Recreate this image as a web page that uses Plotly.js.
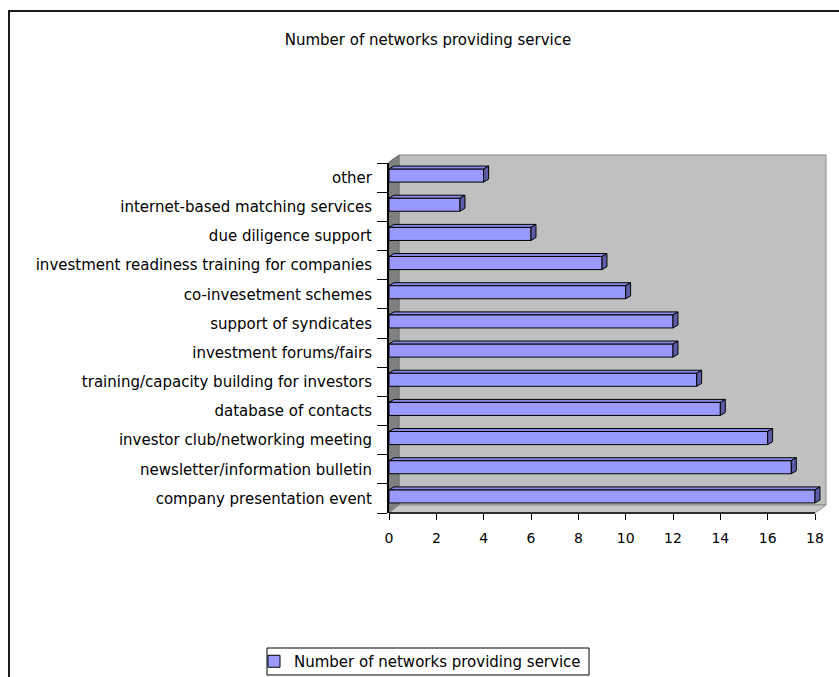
<!DOCTYPE html>
<html>
<head>
<meta charset="utf-8">
<script src="https://cdn.plot.ly/plotly-3.0.1.min.js"></script>
<style>html,body{margin:0;padding:0;background:#fff}#chart{width:839px;height:677px}</style>
</head>
<body>
<div id="chart"></div>
<script>
// ---- data (bottom to top) ----
const categories = [
  "company presentation event",
  "newsletter/information bulletin",
  "investor club/networking meeting",
  "database of contacts",
  "training/capacity building for investors",
  "investment forums/fairs",
  "support of syndicates",
  "co-invesetment schemes",
  "investment readiness training for companies",
  "due diligence support",
  "internet-based matching services",
  "other"
];
const values = [18, 17, 16, 14, 13, 12, 12, 10, 9, 6, 3, 4];
const seriesName = "Number of networks providing service";
const chartTitle = "Number of networks providing service";
const xTickVals = [0, 2, 4, 6, 8, 10, 12, 14, 16, 18];

// ---- geometry helpers ----
const W = 839, H = 677, L = 389, R = 827, T = 163, B = 513;
const PW = R - L, PH = B - T;
const px = x => (x - L) / PW;
const py = y => (B - y) / PH;
const FONT = "DejaVu Sans, Liberation Sans, Arial, sans-serif";

const idx = categories.map((c, i) => i);
const barW = 0.45, barOff = -0.155, dx = 0.21, dy = 0.1;

// 3D top faces and end caps built from the data
const topX = [], topY = [], capX = [], capY = [];
values.forEach((v, i) => {
  const y0 = i + barOff, y1 = y0 + barW;
  topX.push(0, v, v + dx, dx, 0, null);
  topY.push(y1, y1, y1 + dy, y1 + dy, y1, null);
  capX.push(v, v, v + dx, v + dx, v, null);
  capY.push(y0, y1, y1 + dy, y0 + dy, y0, null);
});

const traces = [
  {
    type: "bar", orientation: "h", name: seriesName,
    x: values, y: idx, width: barW, offset: barOff,
    marker: {color: "#9999FF", line: {color: "#000", width: 1}},
    hoverinfo: "x"
  },
  {
    type: "scatter", mode: "lines", x: topX, y: topY, fill: "toself",
    fillcolor: "#8a8ae6", line: {color: "#000", width: 1},
    showlegend: false, hoverinfo: "skip"
  },
  {
    type: "scatter", mode: "lines", x: capX, y: capY, fill: "toself",
    fillcolor: "#5c5ca8", line: {color: "#000", width: 1},
    showlegend: false, hoverinfo: "skip"
  }
];

const boundaries = categories.map((c, i) => i - 0.5).concat([categories.length - 0.5]);

const shapes = [
  // back wall
  {type: "rect", xref: "paper", yref: "paper", x0: px(399), x1: px(826), y0: py(505), y1: py(155),
   fillcolor: "#c0c0c0", line: {color: "#8c8c8c", width: 1}, layer: "below"},
  // left wall
  {type: "path", xref: "paper", yref: "paper",
   path: `M ${px(389)} ${py(513)} L ${px(389)} ${py(162)} L ${px(399)} ${py(155)} L ${px(399)} ${py(505)} Z`,
   fillcolor: "#808080", line: {color: "#6e6e6e", width: 1}, layer: "below"},
  // floor
  {type: "path", xref: "paper", yref: "paper",
   path: `M ${px(389)} ${py(513)} L ${px(815)} ${py(513)} L ${px(826)} ${py(505)} L ${px(399)} ${py(505)} Z`,
   fillcolor: "#c8c8c8", line: {color: "#8c8c8c", width: 1}, layer: "below"},
  // x axis line (front edge of floor)
  {type: "line", xref: "x", yref: "paper", x0: 0, x1: 18, y0: 0, y1: 0,
   line: {color: "#000", width: 1.5}},
  // legend box
  {type: "rect", xref: "paper", yref: "paper", x0: px(267), x1: px(589), y0: py(648), y1: py(675),
   fillcolor: "#fff", line: {color: "#000", width: 1}, layer: "below"},
  // outer frame
  {type: "rect", xref: "paper", yref: "paper", x0: px(9), x1: px(860), y0: py(11), y1: py(700),
   fillcolor: "rgba(0,0,0,0)", line: {color: "#1a1a1a", width: 2}}
];

const layout = {
  width: W, height: H,
  margin: {l: L, r: W - R, t: T, b: H - B, pad: 0, autoexpand: false},
  paper_bgcolor: "#fff", plot_bgcolor: "rgba(0,0,0,0)",
  font: {family: FONT, size: 15, color: "#000"},
  title: {text: chartTitle, x: 428 / W, xanchor: "center", y: 1 - 40 / H, yanchor: "middle",
          font: {family: FONT, size: 15, color: "#000"}},
  xaxis: {
    range: [0, PW / (426 / 18)], tickmode: "array", tickvals: xTickVals,
    ticks: "outside", ticklen: 6, tickcolor: "#000", tickwidth: 1,
    showline: false, showgrid: false, zeroline: false, ticklabelstandoff: 6,
    tickfont: {family: FONT, size: 14, color: "#000"}, fixedrange: true
  },
  yaxis: {
    range: [-0.5, categories.length - 0.5], tickmode: "array", tickvals: idx, ticktext: categories,
    ticks: "", showline: true, linecolor: "#000", linewidth: 2,
    showgrid: false, zeroline: false, ticklabelstandoff: 12,
    tickfont: {family: FONT, size: 15, color: "#000"},
    minor: {tickmode: "array", tickvals: boundaries, ticks: "outside", ticklen: 10, tickcolor: "#000", tickwidth: 1, showgrid: false},
    fixedrange: true
  },
  showlegend: true,
  legend: {
    xref: "container", yref: "container",
    x: 254 / W, xanchor: "left", y: 1 - 661.5 / H, yanchor: "middle", orientation: "h",
    borderwidth: 0, bgcolor: "rgba(0,0,0,0)",
    font: {family: FONT, size: 15, color: "#000"}
  },
  shapes: shapes,
  bargap: 0
};

Plotly.newPlot("chart", traces, layout, {displayModeBar: false, staticPlot: true});
</script>
</body>
</html>
